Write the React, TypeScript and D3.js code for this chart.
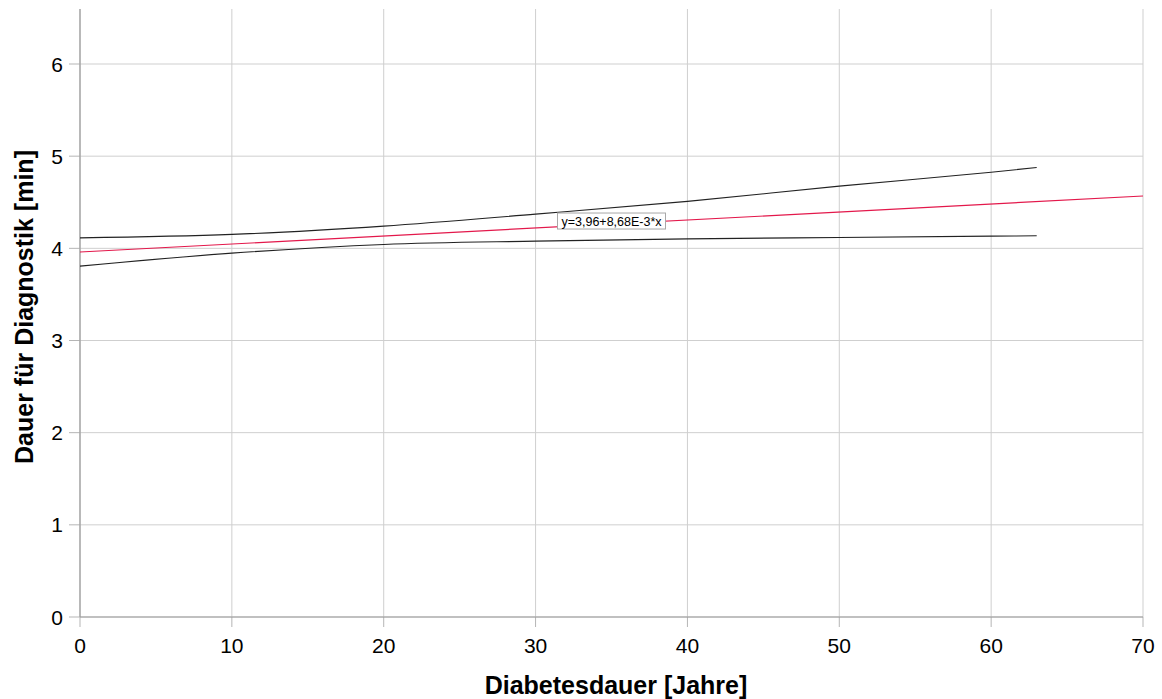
import React from "react";
import * as d3 from "d3";

const xTicks = [0, 10, 20, 30, 40, 50, 60, 70];
const yTicks = [0, 1, 2, 3, 4, 5, 6];

// Regression line y = 3.96 + 8.68E-3 * x (endpoints)
const fitX = [0, 70];
const fitY = [3.96, 4.5676];

// Confidence band
const ciX = [0, 10, 20, 30, 40, 50, 60, 63];
const ciUpper = [4.114, 4.151, 4.241, 4.371, 4.509, 4.675, 4.826, 4.877];
const ciLower = [3.807, 3.948, 4.042, 4.078, 4.103, 4.118, 4.132, 4.136];

const labelText = "y=3,96+8,68E-3*x";
const labelAtX = 35;

const W = 1162;
const H = 699;

export default function App() {
  const x = d3.scaleLinear().domain([0, 70]).range([80, 1143]);
  const y = d3.scaleLinear().domain([0, 6]).range([617, 64]);
  const yTop = 9;

  const line = d3
    .line<[number, number]>()
    .x((d) => x(d[0]))
    .y((d) => y(d[1]))
    .curve(d3.curveMonotoneX);

  const fitPts = fitX.map((v, i) => [v, fitY[i]] as [number, number]);
  const upPts = ciX.map((v, i) => [v, ciUpper[i]] as [number, number]);
  const loPts = ciX.map((v, i) => [v, ciLower[i]] as [number, number]);

  const lx = x(labelAtX);
  const ly = y(fitY[0] + ((fitY[1] - fitY[0]) * labelAtX) / 70) - 3;
  const font = "Liberation Sans, Arial, sans-serif";

  return (
    <svg
      width={W}
      height={H}
      style={{ position: "absolute", left: 0, top: 0, background: "#fff" }}
      fontFamily={font}
    >
      {/* horizontal grid */}
      {yTicks.map((t) => (
        <g key={"gy" + t}>
          <line x1={x(0)} x2={x(70)} y1={y(t)} y2={y(t)} stroke="#cfcfcf" strokeWidth={1} />
          <line x1={69} x2={x(0)} y1={y(t)} y2={y(t)} stroke="#b5b5b5" strokeWidth={1} />
          <text x={63} y={y(t)} dy="0.36em" textAnchor="end" fontSize={21} fill="#000">
            {t}
          </text>
        </g>
      ))}
      {/* vertical grid */}
      {xTicks.map((t) => (
        <g key={"gx" + t}>
          <line x1={x(t)} x2={x(t)} y1={yTop} y2={y(0)} stroke="#cfcfcf" strokeWidth={1} />
          <line x1={x(t)} x2={x(t)} y1={y(0)} y2={627} stroke="#b5b5b5" strokeWidth={1} />
          <text x={x(t)} y={653} textAnchor="middle" fontSize={21} fill="#000">
            {t}
          </text>
        </g>
      ))}
      {/* axes */}
      <line x1={x(0)} x2={x(0)} y1={yTop} y2={y(0)} stroke="#9a9a9a" strokeWidth={1.2} />
      <line x1={x(0)} x2={x(70)} y1={y(0)} y2={y(0)} stroke="#9a9a9a" strokeWidth={1.2} />

      {/* confidence band */}
      <path d={line(upPts) || ""} fill="none" stroke="#222" strokeWidth={1.1} />
      <path d={line(loPts) || ""} fill="none" stroke="#222" strokeWidth={1.1} />
      {/* fit line */}
      <path d={line(fitPts) || ""} fill="none" stroke="#e3184b" strokeWidth={1.2} />

      {/* label */}
      <g>
        <rect x={lx - 54} y={ly - 8} width={108} height={16} fill="#fff" stroke="#a8a8a8" strokeWidth={1} />
        <text x={lx} y={ly} dy="0.36em" textAnchor="middle" fontSize={12.5} fill="#000">
          {labelText}
        </text>
      </g>

      {/* axis titles */}
      <text x={616} y={694} textAnchor="middle" fontSize={25} fontWeight="bold" fill="#000">
        Diabetesdauer [Jahre]
      </text>
      <text
        transform={`translate(33, 307) rotate(-90)`}
        textAnchor="middle"
        fontSize={25}
        fontWeight="bold"
        fill="#000"
      >
        Dauer für Diagnostik [min]
      </text>
    </svg>
  );
}
